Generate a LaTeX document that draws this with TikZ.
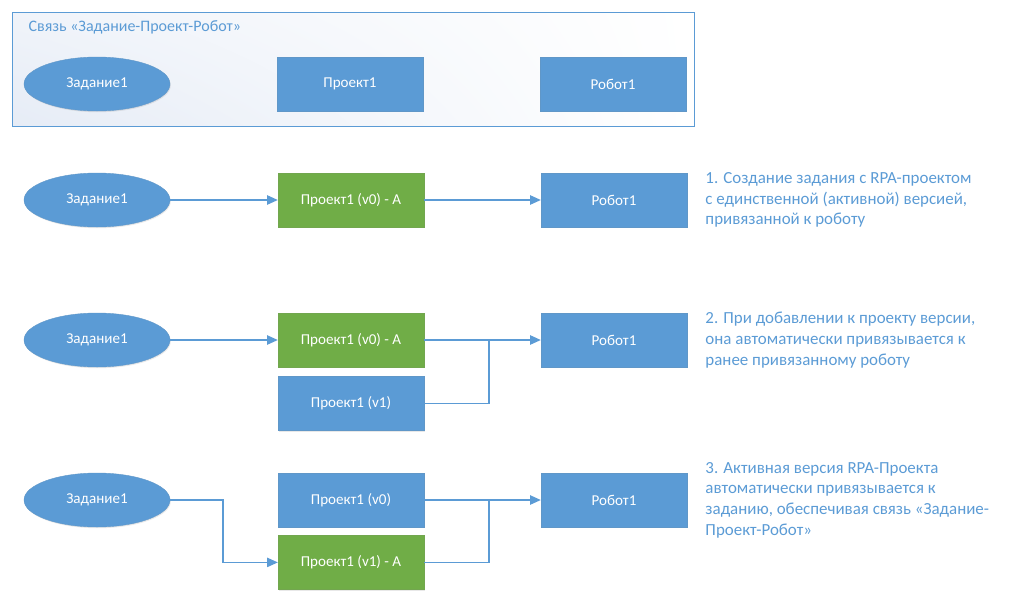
\documentclass[tikz,border=0pt]{standalone}
\usepackage{fontspec}
\setmainfont{Carlito}
\usepackage{xcolor}
\usepackage{tikz}
\usetikzlibrary{positioning,arrows.meta,shapes.geometric,shadows,shadings}

\definecolor{boxblue}{HTML}{5B9BD5}
\definecolor{boxgreen}{HTML}{70AD47}
\definecolor{noteblue}{HTML}{5B9BD5}
\definecolor{framefill}{HTML}{E6ECF6}

\begin{document}
\begin{tikzpicture}[x=0.75pt, y=-0.75pt]
        % Styles for tasks, projects and notes
        \tikzset{
            task/.style = {ellipse, fill=boxblue, draw=boxblue!85!gray, line width=0.3pt,
                minimum width=109.5pt, minimum height=40.5pt, inner sep=0pt,
                text=white, font=\fontsize{11.3}{13}\selectfont,
                drop shadow={opacity=0.18, shadow xshift=0.6pt, shadow yshift=-0.9pt}},
            proj/.style = {rectangle, fill=boxblue, draw=boxblue!85!gray, line width=0.3pt,
                minimum width=109.5pt, minimum height=40.5pt, inner sep=0pt,
                text=white, font=\fontsize{11.3}{13}\selectfont,
                drop shadow={opacity=0.18, shadow xshift=0.6pt, shadow yshift=-0.9pt}},
            active/.style = {proj, fill=boxgreen, draw=boxgreen!85!gray},
            note/.style = {align=left, inner sep=0pt, text=noteblue,
                font=\fontsize{12.7}{15.5}\selectfont},
            link/.style = {boxblue, line width=0.9pt, -{Triangle[length=8pt, width=7pt]}},
            joinline/.style = {boxblue, line width=0.9pt}
        }

        \useasboundingbox (0,0) rectangle (1020,607);

        % Frame on top
        \shade[lower left=framefill, lower right=white, upper left=framefill!60!white, upper right=white]
            (12,12) rectangle (694,126);
        \draw[boxblue, line width=0.75pt] (12,12) rectangle (694,126);
        \node[anchor=west, text=noteblue, font=\fontsize{12}{14}\selectfont] (title) at (24,27)
            {Связь «Задание-Проект-Робот»};

        \node[task] (task0) at (97,84) {Задание1};
        \node[proj] (proj0) at (350,84) {Проект1};
        \node[proj] (rob0) at (613,84) {Робот1};

        % Step 1
        \node[task] (task1) at (97,200) {Задание1};
        \node[active] (proj1) at (351,200) {Проект1 (v0) - A};
        \node[proj] (rob1) at (614,200) {Робот1};
        \draw[link] (task1) -- (proj1);
        \draw[link] (proj1) -- (rob1);
        \node[note, right=13.5pt of rob1] (note1)
            {1. Создание задания с RPA-проектом\\с единственной (активной) версией,\\привязанной к роботу};

        % Step 2
        \node[task] (task2) at (97,340) {Задание1};
        \node[active] (proj2a) at (351,340) {Проект1 (v0) - A};
        \node[proj, below=6.75pt of proj2a] (proj2b) {Проект1 (v1)};
        \node[proj] (rob2) at (614,340) {Робот1};
        \coordinate (j2) at (489,340);
        \draw[link] (task2) -- (proj2a);
        \draw[link] (proj2a) -- (rob2);
        \draw[joinline] (proj2b.east) -| (j2);
        \node[note, right=13.5pt of rob2] (note2)
            {2. При добавлении к проекту версии,\\она автоматически привязывается к\\ранее привязанному роботу};

        % Step 3
        \node[task] (task3) at (97,500) {Задание1};
        \node[proj] (proj3a) at (351,500) {Проект1 (v0)};
        \node[active, below=6pt of proj3a] (proj3b) {Проект1 (v1) - A};
        \node[proj] (rob3) at (614,500) {Робот1};
        \coordinate (k3) at (223,500);
        \coordinate (j3) at (489,500);
        \draw[link] (task3.east) -- (k3) |- (proj3b.west);
        \draw[link] (proj3a) -- (rob3);
        \draw[joinline] (proj3b.east) -| (j3);
        \node[note, right=13.5pt of rob3] (note3)
            {3. Активная версия RPA-Проекта\\автоматически привязывается к\\заданию, обеспечивая связь «Задание-\\Проект-Робот»};

\end{tikzpicture}
\end{document}
